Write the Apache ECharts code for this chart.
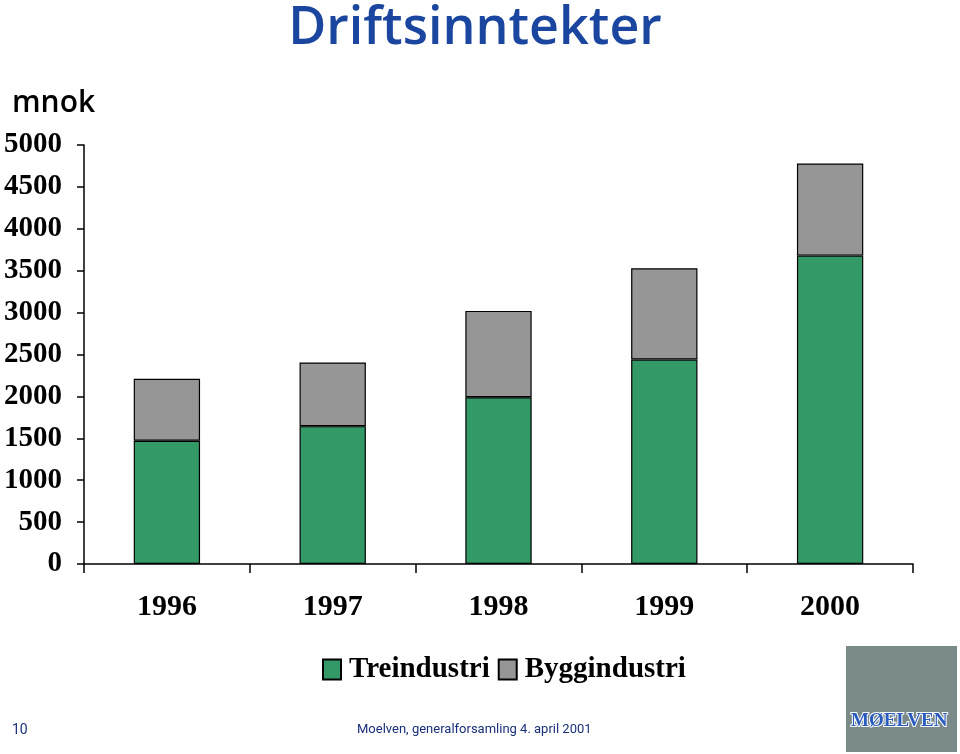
<!DOCTYPE html>
<html>
<head>
<meta charset="utf-8">
<script src="https://cdn.jsdelivr.net/npm/echarts@6/dist/echarts.min.js"></script>
<style>html,body{margin:0;padding:0;background:#fff;}#c{width:960px;height:754px;}</style>
</head>
<body>
<div id="c"></div>
<script>
const categories = ['1996', '1997', '1998', '1999', '2000'];
const treindustri = [1470, 1645, 1990, 2440, 3680];
const byggindustri = [740, 760, 1030, 1090, 1100];
const seriesNames = ['Treindustri', 'Byggindustri'];
const yTicks = [0, 500, 1000, 1500, 2000, 2500, 3000, 3500, 4000, 4500, 5000];

const chart = echarts.init(document.getElementById('c'));
const serif = '"Liberation Serif", "DejaVu Serif", serif';
chart.setOption({
  animation: false,
  backgroundColor: '#fff',
  title: {
    text: 'Driftsinntekter',
    left: 470, top: -2, textAlign: 'center',
    textStyle: { fontFamily: '"Open Sans", sans-serif', fontWeight: 600, fontSize: 52, color: '#1a46a0' }
  },
  graphic: [
    { type: 'text', left: 12, top: 88, style: { text: 'mnok', font: '600 30px "Open Sans", sans-serif', fill: '#000' } },
    { type: 'text', left: 12, top: 723, style: { text: '10', font: '14px Roboto, sans-serif', fill: '#1a2f7a' } },
    { type: 'text', left: 357, top: 723, style: { text: 'Moelven, generalforsamling 4. april 2001', font: '13px Roboto, sans-serif', fill: '#1a2f7a' } },
    { type: 'rect', shape: { x: 846, y: 646, width: 111, height: 106 }, style: { fill: '#7a8a88' } },
    { type: 'text', left: 850, top: 711, style: { text: 'MØELVEN', font: 'bold 19px "Liberation Serif", serif', fill: '#2a5cc0', stroke: '#fff', lineWidth: 2 } }
  ],
  legend: {
    data: seriesNames,
    left: 317, top: 650,
    itemWidth: 18, itemHeight: 20, itemGap: 8,
    icon: 'rect',
    textStyle: { fontFamily: serif, fontWeight: 'bold', fontSize: 29, color: '#000', padding: [0, 0, 0, 3] }
  },
  grid: { left: 84, right: 47, top: 145, bottom: 190, containLabel: false },
  xAxis: {
    type: 'category',
    data: categories,
    axisLine: { lineStyle: { color: '#000', width: 1.5 } },
    axisTick: { show: true, length: 9, lineStyle: { color: '#000', width: 1.5 } },
    axisLabel: { fontFamily: serif, fontWeight: 'bold', fontSize: 30, color: '#000', margin: 28 }
  },
  yAxis: {
    type: 'value',
    min: 0, max: 5000, interval: 500,
    splitLine: { show: false },
    axisLine: { show: true, lineStyle: { color: '#000', width: 1.5 } },
    axisTick: { show: true, length: 7, lineStyle: { color: '#000', width: 1.5 } },
    axisLabel: {
      fontFamily: serif, fontWeight: 'bold', fontSize: 29, color: '#000', margin: 22,
      formatter: v => yTicks.includes(v) ? String(v) : ''
    }
  },
  series: [
    {
      name: seriesNames[0], type: 'bar', stack: 'a', data: treindustri, barWidth: '40%',
      itemStyle: { color: '#339966', borderColor: '#000', borderWidth: 1.2 }
    },
    {
      name: seriesNames[1], type: 'bar', stack: 'a', data: byggindustri, barWidth: '40%',
      itemStyle: { color: '#969696', borderColor: '#000', borderWidth: 1.2 }
    }
  ]
});
</script>
</body>
</html>
